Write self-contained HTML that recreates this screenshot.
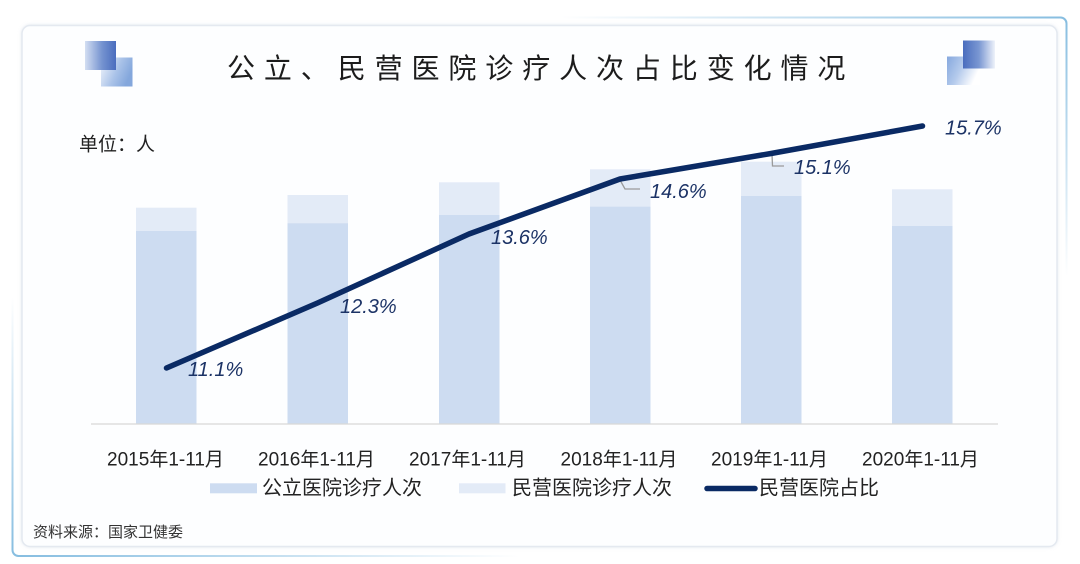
<!DOCTYPE html>
<html>
<head>
<meta charset="utf-8">
<style>
  html,body{margin:0;padding:0;background:#ffffff;}
  body{width:1080px;height:564px;overflow:hidden;position:relative;}
  svg{position:absolute;left:0;top:0;}
  .cjk{font-family:"Liberation Sans","Noto Sans CJK SC","WenQuanYi Zen Hei",sans-serif;}
</style>
</head>
<body>
<svg width="1080" height="564" viewBox="0 0 1080 564" xmlns="http://www.w3.org/2000/svg">
  <defs>
    <linearGradient id="frameG" x1="0" y1="1" x2="1" y2="0">
      <stop offset="0" stop-color="#86bde0" stop-opacity="1"/>
      <stop offset="0.24" stop-color="#86bde0" stop-opacity="0"/>
      <stop offset="0.76" stop-color="#86bde0" stop-opacity="0"/>
      <stop offset="1" stop-color="#86bde0" stop-opacity="1"/>
    </linearGradient>
    <linearGradient id="lDark" x1="0" y1="0" x2="1" y2="0">
      <stop offset="0" stop-color="#d3def2"/>
      <stop offset="0.55" stop-color="#7593d0"/>
      <stop offset="1" stop-color="#4a6dbe"/>
    </linearGradient>
    <linearGradient id="lLight" x1="0" y1="0" x2="1" y2="0.4">
      <stop offset="0" stop-color="#f4f7fc"/>
      <stop offset="0.6" stop-color="#a9c2e8"/>
      <stop offset="1" stop-color="#84a7dc"/>
    </linearGradient>
    <linearGradient id="rDark" x1="0" y1="0" x2="1" y2="0">
      <stop offset="0" stop-color="#4a6dbe"/>
      <stop offset="0.5" stop-color="#7a97d2"/>
      <stop offset="1" stop-color="#eef2fa"/>
    </linearGradient>
    <linearGradient id="rLight" x1="0" y1="0" x2="1" y2="0.4">
      <stop offset="0" stop-color="#86a8de"/>
      <stop offset="0.5" stop-color="#b5cbec"/>
      <stop offset="1" stop-color="#ffffff"/>
    </linearGradient>
    <filter id="sh" x="-5%" y="-5%" width="110%" height="110%">
      <feDropShadow dx="0" dy="0" stdDeviation="1.5" flood-color="#c8d2e0" flood-opacity="0.5"/>
    </filter>
  </defs>

  <!-- outer frame -->
  <rect x="12.5" y="17.5" width="1054" height="538.5" rx="6" ry="6" fill="none" stroke="url(#frameG)" stroke-width="2"/>

  <!-- card -->
  <rect x="22" y="25.5" width="1035" height="521" rx="8" ry="8" fill="#fdfeff" stroke="#e4e9f0" stroke-width="1.5" filter="url(#sh)"/>

  <!-- decorations left -->
  <rect x="101" y="57.5" width="31.5" height="29" fill="url(#lLight)"/>
  <rect x="85" y="41" width="31" height="29" fill="url(#lDark)"/>
  <!-- decorations right -->
  <rect x="947" y="56.5" width="33" height="28.5" fill="url(#rLight)"/>
  <rect x="963" y="40.5" width="32" height="28" fill="url(#rDark)"/>

  <!-- title -->
  <text x="227" y="78" class="cjk" font-size="28" fill="#1c1c1c" letter-spacing="8.9">公立、民营医院诊疗人次占比变化情况</text>

  <!-- unit -->
  <text x="79" y="150.5" class="cjk" font-size="19" fill="#222">单位：人</text>

  <!-- bars: light (民营) top segment, dark (公立) bottom -->
  <g>
    <rect x="136" y="207.7" width="60.5" height="215.8" fill="#e3ebf7"/>
    <rect x="136" y="231" width="60.5" height="192.5" fill="#cddcf1"/>

    <rect x="287.5" y="195" width="60.5" height="228.5" fill="#e3ebf7"/>
    <rect x="287.5" y="223.3" width="60.5" height="200.2" fill="#cddcf1"/>

    <rect x="439" y="182.3" width="60.5" height="241.2" fill="#e3ebf7"/>
    <rect x="439" y="215" width="60.5" height="208.5" fill="#cddcf1"/>

    <rect x="590" y="169.3" width="60.5" height="254.2" fill="#e3ebf7"/>
    <rect x="590" y="206.7" width="60.5" height="216.8" fill="#cddcf1"/>

    <rect x="741" y="161.7" width="60.5" height="261.8" fill="#e3ebf7"/>
    <rect x="741" y="196" width="60.5" height="227.5" fill="#cddcf1"/>

    <rect x="892" y="189.3" width="60.5" height="234.2" fill="#e3ebf7"/>
    <rect x="892" y="226" width="60.5" height="197.5" fill="#cddcf1"/>
  </g>

  <!-- axis -->
  <line x1="91" y1="424" x2="998" y2="424" stroke="#d8d8d8" stroke-width="1.2"/>

  <!-- leaders -->
  <polyline points="620,180 625,189 640,189" fill="none" stroke="#9a9a9a" stroke-width="1.3"/>
  <polyline points="772,154 772.5,166 784,166" fill="none" stroke="#9a9a9a" stroke-width="1.3"/>

  <!-- line -->
  <polyline points="166.5,368 317.5,303 469,234 620,179 771,153.5 922.5,126" fill="none" stroke="#0a2a64" stroke-width="5.5" stroke-linejoin="round" stroke-linecap="round"/>

  <!-- data labels -->
  <g font-family="Liberation Sans, sans-serif" font-style="italic" font-size="20" fill="#1c3366">
    <text x="188" y="376.2">11.1%</text>
    <text x="340" y="312.9">12.3%</text>
    <text x="491" y="244.2">13.6%</text>
    <text x="650" y="197.9">14.6%</text>
    <text x="794" y="173.9">15.1%</text>
    <text x="945" y="134.5">15.7%</text>
  </g>

  <!-- x labels -->
  <g class="cjk" font-size="19" fill="#222" text-anchor="middle">
    <text x="165.5" y="465.5">2015年1-11月</text>
    <text x="316.5" y="465.5">2016年1-11月</text>
    <text x="467.5" y="465.5">2017年1-11月</text>
    <text x="619" y="465.5">2018年1-11月</text>
    <text x="769.5" y="465.5">2019年1-11月</text>
    <text x="920.5" y="465.5">2020年1-11月</text>
  </g>

  <!-- legend -->
  <rect x="210" y="483.3" width="47" height="10" fill="#cddcf1"/>
  <text x="262" y="494.5" class="cjk" font-size="20" fill="#222">公立医院诊疗人次</text>
  <rect x="459" y="483.3" width="46.5" height="10" fill="#e3ebf7"/>
  <text x="512" y="494.5" class="cjk" font-size="20" fill="#222">民营医院诊疗人次</text>
  <line x1="707" y1="488.5" x2="755" y2="488.5" stroke="#0a2a64" stroke-width="5.5" stroke-linecap="round"/>
  <text x="759" y="494.5" class="cjk" font-size="20" fill="#222">民营医院占比</text>

  <!-- source -->
  <text x="33" y="537" class="cjk" font-size="15" fill="#333">资料来源：国家卫健委</text>
</svg>
</body>
</html>
